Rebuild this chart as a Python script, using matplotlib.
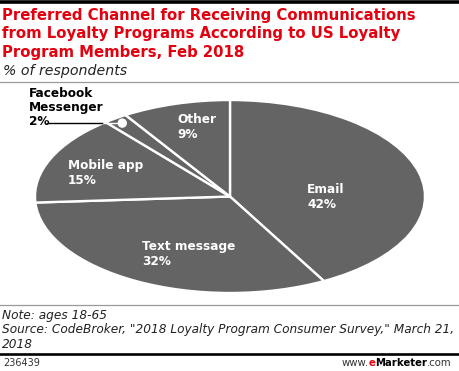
import matplotlib
matplotlib.use("Agg")
import matplotlib.pyplot as plt
from matplotlib.patches import Ellipse
from matplotlib.lines import Line2D
import numpy as np

# ---- data ----
categories = ["Email", "Text message", "Mobile app", "Facebook\nMessenger", "Other"]
values = [42, 32, 15, 2, 9]
value_labels = ["42%", "32%", "15%", "2%", "9%"]

W, H = 460, 371
fig = plt.figure(figsize=(W / 100, H / 100), dpi=100)
fig.patch.set_facecolor("white")

def fx(x):
    return x / W

def fy(y):
    return 1 - y / H

RED = "#e3000f"
GRAY = "#646464"
FONT = "DejaVu Sans"

def lines_at(x, baselines, text_lines, **kw):
    for b, s in zip(baselines, text_lines):
        fig.text(fx(x), fy(b), s, va="baseline", ha="left", family=FONT, **kw)

# top rule
fig.add_artist(Line2D([0, 1], [fy(1.5), fy(1.5)], color="black", lw=2.6))

# title
title_lines = ["Preferred Channel for Receiving Communications",
               "from Loyalty Programs According to US Loyalty",
               "Program Members, Feb 2018"]
lines_at(2, [19.8, 38.2, 56.5], title_lines, color=RED, fontsize=10.7, fontweight="bold")
lines_at(3, [75], ["% of respondents"], fontsize=10.2, style="italic", color="#222222")
fig.add_artist(Line2D([0, 1], [fy(81.5), fy(81.5)], color="#999999", lw=0.9))

# pie
left, right, top, bottom = 35, 425, 100, 293
ax = fig.add_axes([fx(left), fy(bottom), fx(right - left), (bottom - top) / H])
wedges, _ = ax.pie(values, startangle=90, counterclock=False,
                   colors=[GRAY] * len(values),
                   wedgeprops=dict(edgecolor="white", linewidth=1.7))
ax.set_xlim(-1, 1)
ax.set_ylim(-1, 1)
ax.set_aspect("auto")
ax.axis("off")

def px2data(x, y):
    return ((x - (left + right) / 2) / ((right - left) / 2),
            ((top + bottom) / 2 - y) / ((bottom - top) / 2))

lab_kw = dict(color="white", fontsize=8.7, fontweight="bold")
# (x, first baseline) in pixels
label_pos = {"Email": (307, 193.3), "Text message": (142, 250),
             "Mobile app": (68, 169.5), "Other": (177, 123.3)}
for cat, val in zip(categories, value_labels):
    if cat in label_pos:
        x, b = label_pos[cat]
        lines_at(x, [b, b + 14.8], [cat, val], **lab_kw)

# Facebook Messenger callout
fb_idx = 3
start = 90 - sum(values[:fb_idx]) / 100 * 360
mid = np.deg2rad(start - values[fb_idx] / 100 * 360 / 2)
r = 0.94
cx, cy = r * np.cos(mid), r * np.sin(mid)
edge_x = -np.sqrt(1 - cy ** 2)
tx, _ = px2data(48, 0)
ax.plot([tx, edge_x], [cy, cy], color="black", lw=1.0, clip_on=False,
        solid_capstyle="butt")
ax.plot([edge_x, cx], [cy, cy], color="white", lw=1.0, clip_on=False,
        solid_capstyle="butt")
ax.add_patch(Ellipse((cx, cy), 8 / ((right - left) / 2), 8 / ((bottom - top) / 2),
                     facecolor="white", edgecolor="white", clip_on=False))
fb_lines = categories[fb_idx].split("\n") + [value_labels[fb_idx]]
lines_at(29, [97, 110.8, 124.6], fb_lines, color="black", fontsize=8.7,
         fontweight="bold")

# notes
fig.add_artist(Line2D([0, 1], [fy(305), fy(305)], color="#999999", lw=0.9))
note_lines = ["Note: ages 18-65",
              'Source: CodeBroker, "2018 Loyalty Program Consumer Survey," March 21,',
              "2018"]
lines_at(2, [318.5, 333.5, 348.5], note_lines, fontsize=8.7, style="italic", color="#222222")
fig.add_artist(Line2D([0, 1], [fy(354), fy(354)], color="black", lw=1.9))
lines_at(3, [366.5], ["236439"], fontsize=7.0, color="#333333")

# footer brand, right-aligned
pieces = [("www.", "#333333", "normal"), ("e", RED, "bold"),
          ("Marketer", "black", "bold"), (".com", "#333333", "normal")]
renderer = fig.canvas.get_renderer()
texts = []
for s, c, w in pieces:
    t = fig.text(0, fy(366.5), s, fontsize=7.3, family=FONT, color=c,
                 fontweight=w, va="baseline", ha="left")
    texts.append(t)
widths = [t.get_window_extent(renderer).width for t in texts]
x = 452 - sum(widths)
for t, wd in zip(texts, widths):
    t.set_x(fx(x))
    x += wd

fig.savefig("out.png", dpi=100, facecolor="white")
